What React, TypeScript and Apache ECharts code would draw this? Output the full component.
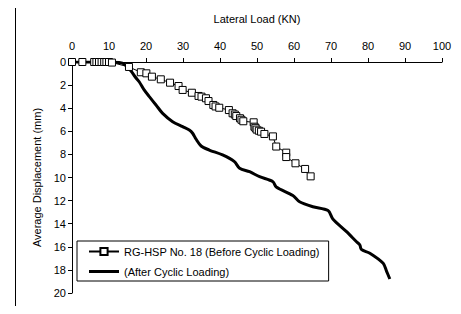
import React, { useEffect, useRef } from "react";
import * as echarts from "echarts";

const xTitle = "Lateral Load (KN)";
const yTitle = "Average Displacement (mm)";
const beforeName = "RG-HSP No. 18 (Before Cyclic Loading)";
const afterName = "(After Cyclic Loading)";

const beforeLoad = [
  0, 2.8, 6.0, 6.6, 7.3, 8.0, 8.7, 9.3, 10.0, 10.8, 15.4, 18.6, 20.1, 21.6, 24.0,
  26.5, 28.8, 29.9, 32.4, 34.2, 35.0, 36.2, 36.9, 38.2, 38.8, 39.8, 42.4, 43.4, 44.0,
  44.4, 45.4, 45.8, 46.3, 49.1, 49.3, 49.6, 49.9, 50.5, 51.1, 52.0, 54.3, 55.2, 57.9,
  57.9, 60.4, 63.0, 64.5,
];
const beforeDisp = [
  0, 0, 0, 0, 0, 0, 0, 0, 0, 0.05, 0.43, 0.89, 0.98, 1.27, 1.5,
  1.79, 2.08, 2.42, 2.66, 2.94, 3.0, 3.14, 3.38, 3.72, 3.85, 3.96, 4.16, 4.44, 4.55,
  4.68, 4.87, 5.0, 5.13, 5.22, 5.6, 5.7, 5.85, 5.95, 6.03, 6.23, 6.44, 7.32, 7.85,
  8.23, 8.77, 9.26, 9.9,
];

const afterLoad = [
  0, 7.3, 10.8, 12.7, 14.1, 15.9, 17.1, 18.2, 19.5, 20.9, 22.7, 24.5, 27.2, 29.9,
  31.7, 32.6, 33.5, 34.9, 37.1, 40.7, 43.9, 45.3, 48.0, 50.7, 54.3, 55.2, 59.7, 61.5,
  65.1, 69.2, 70.5, 74.2, 76.9, 77.8, 78.2, 80.5, 84.1, 85.0, 85.9,
];
const afterDisp = [
  0, 0, 0, 0.04, 0.17, 0.75, 1.3, 1.73, 2.42, 3.0, 3.72, 4.45, 5.17, 5.6,
  5.89, 6.17, 6.67, 7.27, 7.62, 8.05, 8.63, 9.2, 9.5, 9.93, 10.36, 10.82, 11.56, 12.1,
  12.53, 12.86, 13.59, 14.69, 15.56, 15.84, 16.23, 16.56, 17.43, 18.1, 18.79,
];

const FONT = "'Liberation Sans', Arial, sans-serif";

export default function App() {
  const ref = useRef<HTMLDivElement>(null);
  useEffect(() => {
    const chart = echarts.init(ref.current!, null, { renderer: "svg" });
    chart.setOption({
      animation: false,
      textStyle: { fontFamily: FONT, color: "#000" },
      graphic: [
        {
          type: "rect",
          shape: { x: 15.5, y: 5.5, width: 460, height: 320 },
          style: { fill: "none", stroke: "#000", lineWidth: 1 },
          silent: true,
        },
      ],
      grid: { left: 72, top: 62, right: 19, bottom: 21, containLabel: false },
      legend: {
        left: 77,
        top: 241,
        orient: "vertical",
        backgroundColor: "#fff",
        borderColor: "#000",
        borderWidth: 1,
        padding: [5, 9, 4, 11],
        itemWidth: 30,
        itemHeight: 9,
        itemGap: 9,
        textStyle: { fontFamily: FONT, fontSize: 11, color: "#000" },
        data: [
          { name: beforeName },
          {
            name: afterName,
            icon: "path://M0,0 L0,0 M0,9 L0,9 M0,3 L30,3 L30,6 L0,6 Z",
            itemStyle: { color: "#000", borderWidth: 0 },
          },
        ],
      },
      xAxis: {
        type: "value",
        position: "top",
        min: 0,
        max: 100,
        interval: 10,
        name: xTitle,
        nameLocation: "middle",
        nameGap: 38,
        nameTextStyle: { fontFamily: FONT, fontSize: 11, color: "#000" },
        axisLine: { show: true, lineStyle: { color: "#000", width: 1 } },
        axisTick: { show: true, length: 4, lineStyle: { color: "#000" } },
        axisLabel: { margin: 11, fontFamily: FONT, fontSize: 11, color: "#000" },
        splitLine: { show: false },
      },
      yAxis: {
        type: "value",
        inverse: true,
        min: 0,
        max: 20,
        interval: 2,
        name: yTitle,
        nameLocation: "middle",
        nameGap: 30,
        nameTextStyle: { fontFamily: FONT, fontSize: 11, color: "#000" },
        axisLine: { show: true, lineStyle: { color: "#000", width: 1 } },
        axisTick: { show: true, length: 4, lineStyle: { color: "#000" } },
        axisLabel: { margin: 6, fontFamily: FONT, fontSize: 11, color: "#000" },
        splitLine: { show: false },
      },
      series: [
        {
          name: afterName,
          type: "line",
          data: afterLoad.map((x, i) => [x, afterDisp[i]]),
          showSymbol: false,
          symbol: "none",
          smooth: 0.3,
          lineStyle: { color: "#000", width: 3 },
          itemStyle: { color: "#000" },
          z: 2,
        },
        {
          name: beforeName,
          type: "line",
          data: beforeLoad.map((x, i) => [x, beforeDisp[i]]),
          symbol: "rect",
          symbolSize: 7,
          showAllSymbol: true,
          lineStyle: { color: "#000", width: 1 },
          itemStyle: { color: "#fff", borderColor: "#000", borderWidth: 1 },
          z: 3,
        },
      ],
    });
    return () => chart.dispose();
  }, []);
  return <div ref={ref} style={{ width: 461, height: 314, margin: -8 }} />;
}
